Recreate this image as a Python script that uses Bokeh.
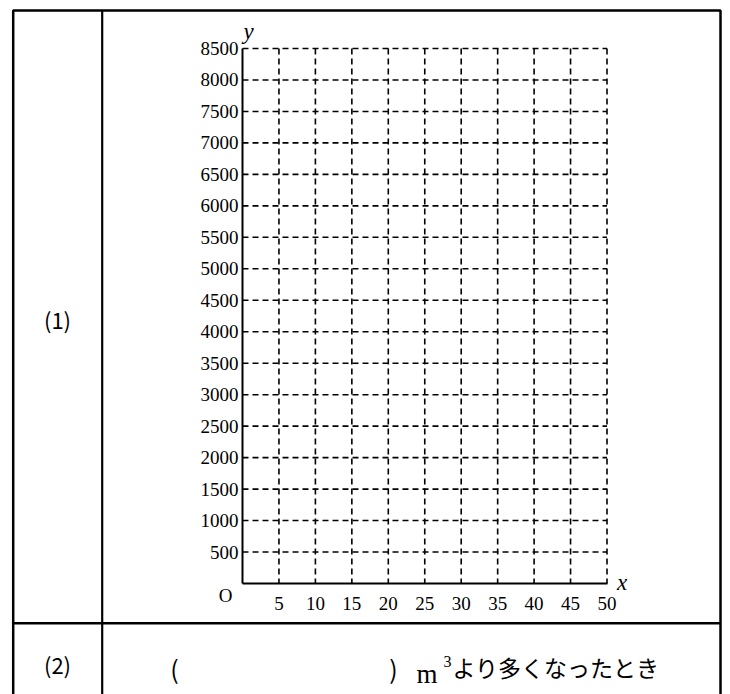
from bokeh.plotting import figure
from bokeh.models import Range1d, FixedTicker, Label, BoxAnnotation
from bokeh.embed import file_html
from bokeh.resources import INLINE

# Axis extent and tick values of the answer grid
x_max = 50
y_max = 8500
x_ticks = [5, 10, 15, 20, 25, 30, 35, 40, 45, 50]
y_ticks = [500, 1000, 1500, 2000, 2500, 3000, 3500, 4000, 4500,
           5000, 5500, 6000, 6500, 7000, 7500, 8000, 8500]

# Text of the answer table
row_labels = ["(1)", "(2)"]
answer_open = "("
answer_close = ")"
unit_base = "m"
unit_power = "3"
answer_tail = "より多くなったとき"
origin_label = "O"
x_name = "x"
y_name = "y"

# Page geometry: where the origin and the far corner of the grid sit (pixels)
W, H = 730, 694
ORIGIN_PX = (242.0, 583.0)
CORNER_PX = (606.5, 48.0)
SX = (CORNER_PX[0] - ORIGIN_PX[0]) / x_max
SY = (ORIGIN_PX[1] - CORNER_PX[1]) / y_max


def dx(px):
    """Page x pixel -> data x."""
    return (px - ORIGIN_PX[0]) / SX


def dy(py):
    """Page y pixel (from top) -> data y."""
    return (ORIGIN_PX[1] - py) / SY


# The plot frame covers the whole page so the table can be drawn around the grid
p = figure(
    width=W, height=H, title=None,
    x_range=Range1d(dx(0), dx(W)), y_range=Range1d(dy(H), dy(0)),
    output_backend="svg", toolbar_location=None,
    min_border=0,
)
p.outline_line_color = None
p.background_fill_color = "white"
p.border_fill_color = "white"
p.grid.visible = False

# Axes pinned at x=0 and y=0, serif tick labels, no tick marks
for ax in (p.xaxis[0], p.yaxis[0]):
    ax.fixed_location = 0
    ax.axis_line_color = "black"
    ax.axis_line_width = 2
    ax.major_tick_line_color = None
    ax.minor_tick_line_color = None
    ax.major_label_text_font = "Liberation Serif"
    ax.major_label_text_font_size = "19px"
    ax.major_label_text_color = "black"
p.xaxis.bounds = (0, x_max)
p.yaxis.bounds = (0, y_max)
p.xaxis.ticker = FixedTicker(ticks=x_ticks)
p.yaxis.ticker = FixedTicker(ticks=y_ticks)
p.xaxis.major_label_standoff = 7
p.yaxis.major_label_standoff = -2

# Dashed grid every 5 along x and every 500 along y
grid = dict(line_color="black", line_dash="6 4", line_width=1.6)
p.segment(x0=x_ticks, y0=[y_max] * len(x_ticks), x1=x_ticks, y1=[0] * len(x_ticks), **grid)
p.segment(x0=[0] * len(y_ticks), y0=y_ticks, x1=[x_max] * len(y_ticks), y1=y_ticks, **grid)

# Origin and axis names
serif = dict(text_font="Liberation Serif", text_color="black",
             text_align="center", text_baseline="middle")
p.add_layout(Label(x=0, y=0, x_offset=-17, y_offset=-12, text=origin_label,
                   text_font_size="19px", **serif))
p.add_layout(Label(x=x_max, y=0, x_offset=15, y_offset=1, text=x_name,
                   text_font_style="italic", text_font_size="23px", **serif))
p.add_layout(Label(x=0, y=y_max, x_offset=6, y_offset=17, text=y_name,
                   text_font_style="italic", text_font_size="23px", **serif))

# Table rules
rule = dict(fill_color=None, line_color="black", line_alpha=1.0)
p.add_layout(BoxAnnotation(left=dx(12.7), right=dx(720), top=dy(10), bottom=dy(700),
                           line_width=2.5, **rule))
p.add_layout(BoxAnnotation(left=dx(101.7), right=dx(101.7), top=dy(10), bottom=dy(700),
                           line_width=2.2, **rule))
p.add_layout(BoxAnnotation(left=dx(12.7), right=dx(720), top=dy(622.7), bottom=dy(622.7),
                           line_width=2.5, **rule))

# Row headers
gothic = dict(text_font="Noto Sans CJK JP", text_color="black")
for label, py in zip(row_labels, [318, 663]):
    p.add_layout(Label(x=dx(57), y=dy(py), text=label,
                       text_align="center", text_baseline="middle",
                       text_font_size="22px", **gothic))

# Answer line of row (2)
p.add_layout(Label(x=dx(174), y=dy(667), text=answer_open,
                   text_align="center", text_baseline="middle",
                   text_font_size="25px", **gothic))
p.add_layout(Label(x=dx(393), y=dy(667), text=answer_close,
                   text_align="center", text_baseline="middle",
                   text_font_size="25px", **gothic))
p.add_layout(Label(x=dx(416), y=dy(673), text=unit_base,
                   text_align="left", text_baseline="alphabetic",
                   text_font="Liberation Serif", text_color="black",
                   text_font_size="27px"))
p.add_layout(Label(x=dx(443), y=dy(661), text=unit_power,
                   text_align="left", text_baseline="alphabetic",
                   text_font="Liberation Serif", text_color="black",
                   text_font_size="16px"))
p.add_layout(Label(x=dx(452), y=dy(666), text=answer_tail,
                   text_align="left", text_baseline="middle",
                   text_font_size="23px", **gothic))

open("out.html", "w").write(file_html(p, INLINE))
